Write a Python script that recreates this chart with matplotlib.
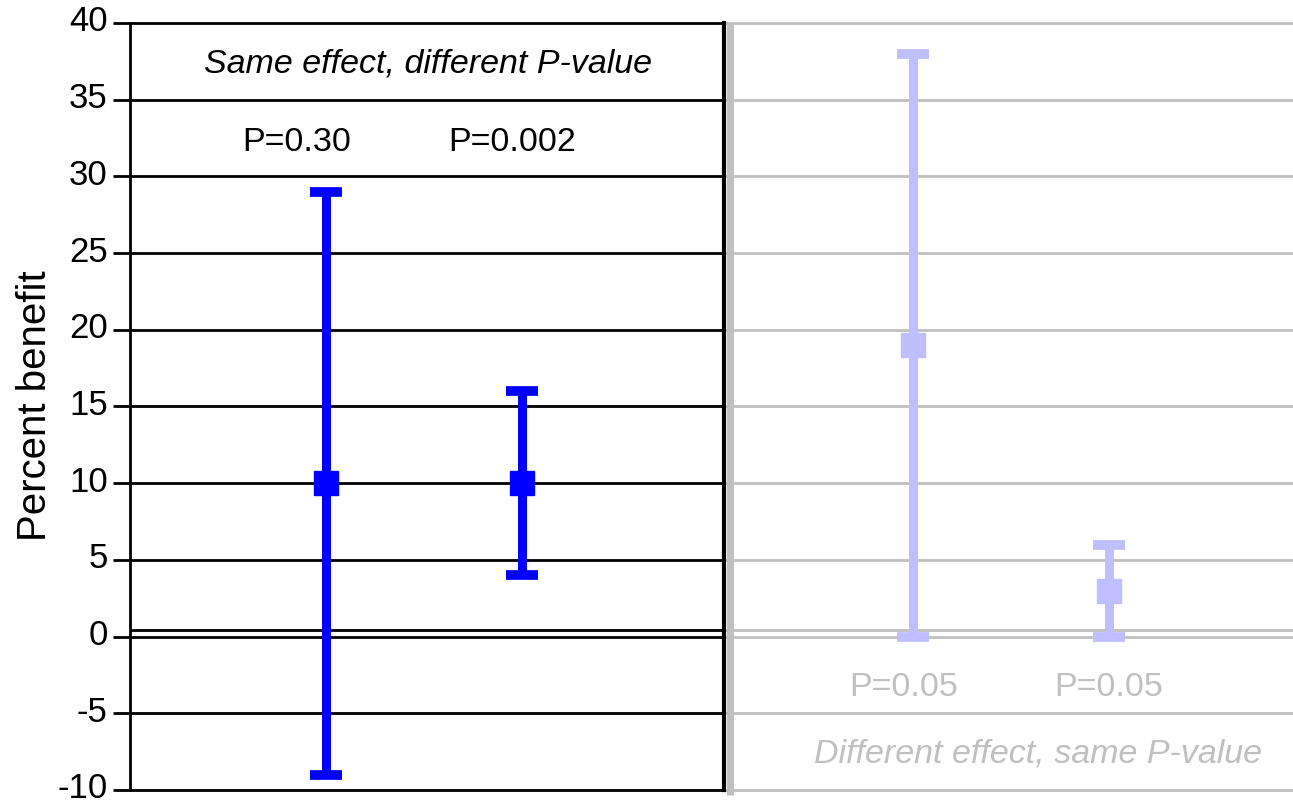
import matplotlib.pyplot as plt
import matplotlib.transforms as mtransforms

plt.rcParams['font.family'] = ['Liberation Sans', 'DejaVu Sans']
plt.rcParams['axes.unicode_minus'] = False

# data
xpos = [1.0, 2.0, 4.0, 5.0]
effect = [10, 10, 19, 3]
ci_low = [-9, 4, 0, 0]
ci_high = [29, 16, 38, 6]
p_labels = ['P=0.30', 'P=0.002', 'P=0.05', 'P=0.05']
p_label_x = [0.85, 1.95, 3.95, 5.0]
yticks = list(range(-10, 45, 5))

blue = '#0000FF'
light = '#BFBFFF'
grey = '#C0C0C0'

fig = plt.figure(figsize=(12.93, 8.04), dpi=100)
ax = fig.add_axes([0.1005, 0.0162, 0.8995, 0.954])

xmin, xmax = 0, 5.94
divider = 3.035
ax.set_xlim(xmin, xmax)
ax.set_ylim(-10, 40)

# grid lines, black on the left half, grey on the right
for y in yticks + [0.45]:
    ax.hlines(y, xmin, divider, color='black', lw=2, zorder=1, clip_on=False)
    ax.hlines(y, divider, xmax, color=grey, lw=2, zorder=1, clip_on=False)

# divider between the two panels
ax.axvline(divider, color='black', lw=3, zorder=2, clip_on=False)
ax.plot([divider + 0.03, divider + 0.03], [-10.3, 40], color=grey, lw=5,
        zorder=2, clip_on=False, solid_capstyle='butt')

for i in range(len(xpos)):
    c = blue if i < 2 else light
    ax.errorbar(xpos[i], effect[i],
                yerr=[[effect[i] - ci_low[i]], [ci_high[i] - effect[i]]],
                fmt='s', color=c, ecolor=c, elinewidth=6.5, capsize=11.5,
                capthick=7, markersize=17, zorder=3)

# annotations
for i in range(len(xpos)):
    ax.text(p_label_x[i], 32.3 if i < 2 else -3.25, p_labels[i],
            ha='center', va='center', fontsize=24.5,
            color='black' if i < 2 else grey)
ax.text(1.52, 37.4, 'Same effect, different P-value', style='italic',
        ha='center', va='center', fontsize=24.5, color='black')
ax.text(4.64, -7.6, 'Different effect, same P-value', style='italic',
        ha='center', va='center', fontsize=24.5, color=grey)

ax.set_xticks([])
ax.set_yticks(yticks)
ax.tick_params(axis='y', length=12, width=2, pad=4, labelsize=25)
shift = mtransforms.ScaledTranslation(0, 4 / 72, fig.dpi_scale_trans)
for lab in ax.get_yticklabels():
    lab.set_transform(lab.get_transform() + shift)
for s in ['top', 'right', 'bottom']:
    ax.spines[s].set_visible(False)
ax.spines['left'].set_linewidth(2)

fig.text(35 / 1293, 0.496, 'Percent benefit', rotation=90, ha='center',
         va='center', fontsize=29)

fig.savefig('out.png', dpi=100)
